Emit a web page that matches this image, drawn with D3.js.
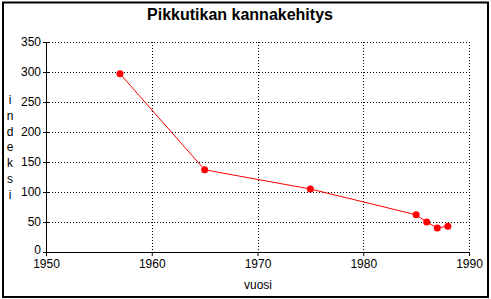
<!DOCTYPE html>
<html>
<head>
<meta charset="utf-8">
<script src="https://cdn.jsdelivr.net/npm/d3@7"></script>
<style>
  body { margin: 0; background: #fff; }
  text { font-family: Arial, "Liberation Sans", sans-serif; fill: #000; }
</style>
</head>
<body>
<div id="chart"></div>
<script>
const W = 491, H = 299;
const margin = {top: 42, right: 22, bottom: 47, left: 46};
const w = W - margin.left - margin.right;
const h = H - margin.top - margin.bottom;

// data
const years = [1957, 1965, 1975, 1985, 1986, 1987, 1988];
const values = [297, 137, 105, 62, 50, 40, 43];
const xTicks = [1950, 1960, 1970, 1980, 1990];
const yTicks = [0, 50, 100, 150, 200, 250, 300, 350];
const title = "Pikkutikan kannakehitys";
const yTitle = "indeksi";
const xTitle = "vuosi";

const data = years.map((y, i) => [y, values[i]]);

const svg = d3.select("#chart")
  .append("svg")
    .attr("width", W)
    .attr("height", H);

// outer frame
svg.append("rect")
  .attr("x", 3).attr("y", 2.5)
  .attr("width", 485).attr("height", 294.5)
  .attr("fill", "none")
  .attr("stroke", "#000")
  .attr("stroke-width", 2);

svg.append("text")
  .attr("x", 240).attr("y", 20)
  .attr("text-anchor", "middle")
  .style("font-size", "16px")
  .style("font-weight", "bold")
  .text(title);

const g = svg.append("g")
  .attr("transform", `translate(${margin.left},${margin.top})`);

const x = d3.scaleLinear().domain([1950, 1990]).range([0, w]);
const y = d3.scaleLinear().domain([0, 350]).range([h, 0]);

// dotted grid
g.selectAll(".hgrid")
  .data(yTicks.filter(d => d > 0))
  .enter().append("line")
    .attr("x1", 0).attr("x2", w)
    .attr("y1", d => Math.round(y(d)) + 0.5)
    .attr("y2", d => Math.round(y(d)) + 0.5)
    .attr("stroke", "#000")
    .attr("stroke-dasharray", "1,2");
g.selectAll(".vgrid")
  .data(xTicks.filter(d => d > 1950))
  .enter().append("line")
    .attr("y1", 0).attr("y2", h)
    .attr("x1", d => Math.round(x(d)) + 0.5)
    .attr("x2", d => Math.round(x(d)) + 0.5)
    .attr("stroke", "#000")
    .attr("stroke-dasharray", "1,2");

// axes
const xAxis = g.append("g")
  .attr("transform", `translate(0,${h})`)
  .call(d3.axisBottom(x).tickValues(xTicks).tickFormat(d3.format("d")).tickSize(4).tickPadding(3));
const yAxis = g.append("g")
  .call(d3.axisLeft(y).tickValues(yTicks).tickSize(3).tickPadding(2));
[xAxis, yAxis].forEach(a => {
  a.select(".domain").attr("stroke", "#000");
  a.selectAll(".tick line").attr("stroke", "#000");
  a.selectAll("text")
    .style("font-size", "12px")
    .style("font-family", "Arial, 'Liberation Sans', sans-serif")
    .attr("fill", "#000");
});
// y ticks cross the axis
yAxis.selectAll(".tick line").attr("x1", -3).attr("x2", 3);
// keep "0" just clear of "1950"
yAxis.selectAll(".tick text").filter(d => d === 0).attr("dy", "0.1em");

// line + markers
const line = d3.line().x(d => x(d[0])).y(d => y(d[1]));
g.append("path")
  .datum(data)
  .attr("d", line)
  .attr("fill", "none")
  .attr("stroke", "red")
  .attr("stroke-width", 1);
g.selectAll(".pt")
  .data(data)
  .enter().append("circle")
    .attr("cx", d => x(d[0]))
    .attr("cy", d => y(d[1]))
    .attr("r", 3.5)
    .attr("fill", "red");

// y title, letters stacked
svg.append("text")
  .attr("x", 10).attr("y", 104)
  .attr("text-anchor", "middle")
  .style("font-size", "12px")
  .selectAll("tspan")
  .data(yTitle.split(""))
  .enter().append("tspan")
    .attr("x", 10)
    .attr("dy", (d, i) => i === 0 ? 0 : 15.8)
    .text(d => d);

svg.append("text")
  .attr("x", 258).attr("y", 289)
  .attr("text-anchor", "middle")
  .style("font-size", "12px")
  .text(xTitle);
</script>
</body>
</html>
